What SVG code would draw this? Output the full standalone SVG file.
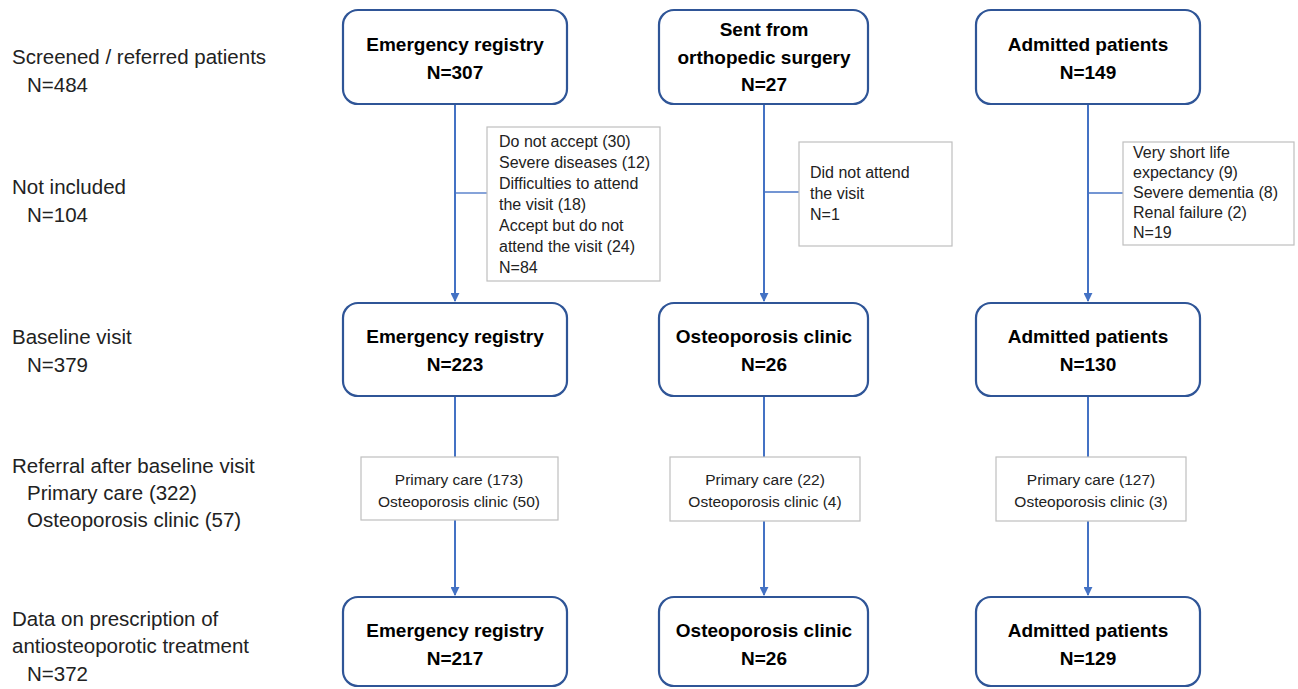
<svg xmlns="http://www.w3.org/2000/svg" width="1298" height="689" viewBox="0 0 1298 689">
<defs>
<style>
.box{fill:#fff;stroke:#2f5597;stroke-width:2.2}
.gbox{fill:#fff;stroke:#bfbfbf;stroke-width:1.2}
.title{font-family:"Liberation Sans",Arial,sans-serif;font-size:19px;font-weight:bold;fill:#000;text-anchor:middle}
.side{font-family:"Liberation Sans",Arial,sans-serif;font-size:20.5px;fill:#222}
.small{font-family:"Liberation Sans",Arial,sans-serif;font-size:16px;fill:#222}
.ref{font-family:"Liberation Sans",Arial,sans-serif;font-size:15.5px;fill:#222;text-anchor:middle}
.conn{stroke:#4472c4;stroke-width:2;fill:none}
.thin{stroke:#4472c4;stroke-width:1.3;fill:none}
</style>
<marker id="arr" viewBox="0 0 10 10" refX="9" refY="5" markerWidth="4.5" markerHeight="4.5" orient="auto" markerUnits="strokeWidth">
<path d="M0,0 L10,5 L0,10 z" fill="#4472c4"/>
</marker>
</defs>
<rect width="1298" height="689" fill="#fff"/>

<g id="side-labels">
<text class="side" x="12" y="64">Screened / referred patients</text>
<text class="side" x="27" y="92">N=484</text>
<text class="side" x="12" y="194">Not included</text>
<text class="side" x="27" y="222">N=104</text>
<text class="side" x="12" y="344">Baseline visit</text>
<text class="side" x="27" y="372">N=379</text>
<text class="side" x="12" y="473">Referral after baseline visit</text>
<text class="side" x="27" y="500">Primary care (322)</text>
<text class="side" x="27" y="527">Osteoporosis clinic (57)</text>
<text class="side" x="12" y="626">Data on prescription of</text>
<text class="side" x="12" y="653">antiosteoporotic treatment</text>
<text class="side" x="27" y="681">N=372</text>
</g>

<g id="connectors">
<line class="conn" x1="455" y1="104" x2="455" y2="301" marker-end="url(#arr)"/>
<line class="thin" x1="455" y1="193" x2="487" y2="193"/>
<line class="conn" x1="455" y1="396" x2="455" y2="457"/>
<line class="conn" x1="455" y1="520" x2="455" y2="595" marker-end="url(#arr)"/>

<line class="conn" x1="764" y1="104" x2="764" y2="301" marker-end="url(#arr)"/>
<line class="thin" x1="764" y1="192" x2="799" y2="192"/>
<line class="conn" x1="764" y1="396" x2="764" y2="457"/>
<line class="conn" x1="764" y1="521" x2="764" y2="595" marker-end="url(#arr)"/>

<line class="conn" x1="1088" y1="104" x2="1088" y2="301" marker-end="url(#arr)"/>
<line class="thin" x1="1088" y1="193" x2="1123" y2="193"/>
<line class="conn" x1="1088" y1="396" x2="1088" y2="457"/>
<line class="conn" x1="1088" y1="521" x2="1088" y2="595" marker-end="url(#arr)"/>
</g>

<g id="emergency-307">
<rect class="box" x="343" y="10" width="224" height="94" rx="15"/>
<text class="title" x="455" y="51">Emergency registry</text>
<text class="title" x="455" y="79">N=307</text>
</g>
<g id="ortho-27">
<rect class="box" x="659" y="10" width="209" height="94" rx="15"/>
<text class="title" x="764" y="36">Sent from</text>
<text class="title" x="764" y="64">orthopedic surgery</text>
<text class="title" x="764" y="91">N=27</text>
</g>
<g id="admitted-149">
<rect class="box" x="976" y="10" width="224" height="94" rx="15"/>
<text class="title" x="1088" y="51">Admitted patients</text>
<text class="title" x="1088" y="79">N=149</text>
</g>

<g id="excl-emergency">
<rect class="gbox" x="487" y="127" width="173" height="154"/>
<text class="small" x="499" y="147">Do not accept (30)</text>
<text class="small" x="499" y="168">Severe diseases (12)</text>
<text class="small" x="499" y="189">Difficulties to attend</text>
<text class="small" x="499" y="210">the visit (18)</text>
<text class="small" x="499" y="231">Accept but do not</text>
<text class="small" x="499" y="252">attend the visit (24)</text>
<text class="small" x="499" y="273">N=84</text>
</g>
<g id="excl-ortho">
<rect class="gbox" x="799" y="142" width="153" height="104"/>
<text class="small" x="810" y="178">Did not attend</text>
<text class="small" x="810" y="199">the visit</text>
<text class="small" x="810" y="220">N=1</text>
</g>
<g id="excl-admitted">
<rect class="gbox" x="1123" y="142" width="171" height="103"/>
<text class="small" x="1133" y="158">Very short life</text>
<text class="small" x="1133" y="178">expectancy (9)</text>
<text class="small" x="1133" y="198">Severe dementia (8)</text>
<text class="small" x="1133" y="218">Renal failure (2)</text>
<text class="small" x="1133" y="238">N=19</text>
</g>

<g id="emergency-223">
<rect class="box" x="343" y="303" width="224" height="93" rx="15"/>
<text class="title" x="455" y="343">Emergency registry</text>
<text class="title" x="455" y="371">N=223</text>
</g>
<g id="osteo-26">
<rect class="box" x="659" y="303" width="209" height="93" rx="15"/>
<text class="title" x="764" y="343">Osteoporosis clinic</text>
<text class="title" x="764" y="371">N=26</text>
</g>
<g id="admitted-130">
<rect class="box" x="976" y="303" width="224" height="93" rx="15"/>
<text class="title" x="1088" y="343">Admitted patients</text>
<text class="title" x="1088" y="371">N=130</text>
</g>

<g id="ref-emergency">
<rect class="gbox" x="361" y="457" width="197" height="63"/>
<text class="ref" x="459" y="485">Primary care (173)</text>
<text class="ref" x="459" y="507">Osteoporosis clinic (50)</text>
</g>
<g id="ref-osteo">
<rect class="gbox" x="670" y="457" width="190" height="64"/>
<text class="ref" x="765" y="485">Primary care (22)</text>
<text class="ref" x="765" y="507">Osteoporosis clinic (4)</text>
</g>
<g id="ref-admitted">
<rect class="gbox" x="996" y="457" width="190" height="64"/>
<text class="ref" x="1091" y="485">Primary care (127)</text>
<text class="ref" x="1091" y="507">Osteoporosis clinic (3)</text>
</g>

<g id="emergency-217">
<rect class="box" x="343" y="597" width="224" height="89" rx="15"/>
<text class="title" x="455" y="637">Emergency registry</text>
<text class="title" x="455" y="665">N=217</text>
</g>
<g id="osteo-26b">
<rect class="box" x="659" y="597" width="209" height="89" rx="15"/>
<text class="title" x="764" y="637">Osteoporosis clinic</text>
<text class="title" x="764" y="665">N=26</text>
</g>
<g id="admitted-129">
<rect class="box" x="976" y="597" width="224" height="89" rx="15"/>
<text class="title" x="1088" y="637">Admitted patients</text>
<text class="title" x="1088" y="665">N=129</text>
</g>
</svg>
